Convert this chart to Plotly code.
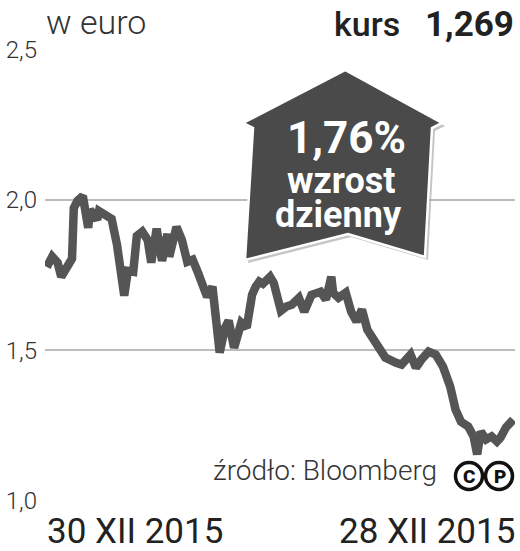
import plotly.graph_objects as go

# ---- data ----
days = [1, 4, 7, 9, 12, 15, 16, 18, 21, 24, 25, 27, 29, 30, 33, 37, 40, 44, 46, 49,
        51, 54, 57, 59, 62, 65, 68, 69, 73, 76, 79, 82, 85, 88, 90, 93, 97, 100, 102, 105,
        109, 112, 115, 117, 119, 121, 125, 127, 131, 134, 137, 141, 144, 148, 150, 153, 156, 159, 160, 163,
        167, 170, 173, 176, 179, 183, 185, 189, 195, 198, 203, 206, 209, 213, 217, 221, 225, 228, 231, 235,
        238, 240, 242, 245, 248, 251, 253, 256, 260]
kurs = [1.777, 1.811, 1.791, 1.744, 1.774, 1.804, 1.973, 1.997, 2.013, 1.907, 1.967, 1.947, 1.934, 1.963, 1.953, 1.937, 1.850, 1.681, 1.764, 1.761,
        1.880, 1.894, 1.867, 1.791, 1.904, 1.797, 1.887, 1.811, 1.910, 1.867, 1.794, 1.801, 1.757, 1.711, 1.678, 1.711, 1.492, 1.575, 1.598, 1.508,
        1.591, 1.575, 1.684, 1.711, 1.728, 1.721, 1.744, 1.724, 1.631, 1.645, 1.651, 1.674, 1.628, 1.684, 1.691, 1.694, 1.668, 1.744, 1.691, 1.674,
        1.691, 1.628, 1.595, 1.635, 1.568, 1.528, 1.502, 1.475, 1.458, 1.452, 1.485, 1.442, 1.468, 1.495, 1.485, 1.445, 1.379, 1.302, 1.262, 1.246,
        1.213, 1.153, 1.229, 1.203, 1.213, 1.196, 1.209, 1.243, 1.269]
y_ticks = [1.0, 1.5, 2.0, 2.5]
date_labels = ["30 XII 2015", "28 XII 2015"]
title_left = "w euro"
kurs_label = "kurs"
kurs_value = "1,269"
badge_lines = ["1,76%", "wzrost", "dzienny"]
source = "źródło: Bloomberg"

W, H = 520, 551
ML, MR, MT, MB = 45, 5, 49, 50
PW, PH = W - ML - MR, H - MT - MB


def px(x):
    return (x - ML) / PW


def py(y):
    return (H - MB - y) / PH


fig = go.Figure()
fig.add_trace(go.Scatter(
    x=days, y=kurs, mode="lines",
    line=dict(color="#555555", width=8.5, shape="linear"),
    hoverinfo="skip", showlegend=False, cliponaxis=False,
))

# badge (house-shaped arrow)
pts = [(345, 70), (442, 123), (432, 128), (425, 257), (348, 234), (245, 260), (253, 128), (243, 123)]


def path(points, dx=0, dy=0):
    return "M " + " L ".join(f"{px(x + dx):.4f},{py(y + dy):.4f}" for x, y in points) + " Z"


shapes = [
    dict(type="path", path=path(pts, 3, 3), xref="paper", yref="paper",
         fillcolor="rgba(150,150,150,0.55)", line=dict(width=0), layer="above"),
    dict(type="path", path=path(pts), xref="paper", yref="paper",
         fillcolor="#4a4a4a", line=dict(color="white", width=2.5), layer="above"),
]
for cx in (469, 499):
    r = 13.5
    shapes.append(dict(type="circle", xref="paper", yref="paper",
                       x0=px(cx - r), x1=px(cx + r), y0=py(476 + r), y1=py(476 - r),
                       fillcolor="white", line=dict(color="#111", width=3.5), layer="above"))

ann = [
    dict(text=title_left, x=px(44), y=py(22), xanchor="left", yanchor="middle",
         font=dict(family="Roboto", size=34, color="#333", weight=300)),
    dict(text=kurs_label, x=px(402), y=py(24), xanchor="right", yanchor="middle",
         font=dict(family="Roboto", size=34, color="#222", weight=500)),
    dict(text=kurs_value, x=px(516), y=py(24), xanchor="right", yanchor="middle",
         font=dict(family="Roboto", size=35, color="#222", weight=700)),
    dict(text=badge_lines[0], x=px(346), y=py(138), xanchor="center", yanchor="middle",
         font=dict(family="Roboto", size=44, color="white", weight=700)),
    dict(text=badge_lines[1], x=px(341), y=py(181), xanchor="center", yanchor="middle",
         font=dict(family="Roboto", size=36, color="white", weight=700)),
    dict(text=badge_lines[2], x=px(338), y=py(215), xanchor="center", yanchor="middle",
         font=dict(family="Roboto", size=36, color="white", weight=700)),
    dict(text=source, x=px(439), y=py(470), xanchor="right", yanchor="middle",
         font=dict(family="Roboto", size=28, color="#333", weight=300)),
    dict(text="C", x=px(469), y=py(476), xanchor="center", yanchor="middle",
         font=dict(family="Roboto", size=19, color="#111", weight=900)),
    dict(text="P", x=px(500), y=py(476), xanchor="center", yanchor="middle",
         font=dict(family="Roboto", size=19, color="#111", weight=900)),
    dict(text=date_labels[0], x=px(45), y=py(531), xanchor="left", yanchor="middle",
         font=dict(family="Roboto", size=35, color="#222", weight=400)),
    dict(text=date_labels[1], x=px(517), y=py(531), xanchor="right", yanchor="middle",
         font=dict(family="Roboto", size=35, color="#222", weight=400)),
]
for a in ann:
    a.update(xref="paper", yref="paper", showarrow=False)

fig.update_layout(
    width=W, height=H,
    margin=dict(l=ML, r=MR, t=MT, b=MB, pad=0),
    paper_bgcolor="white", plot_bgcolor="white",
    separators=", ",
    font=dict(family="Roboto", color="#333"),
    xaxis=dict(range=[0, 261], showgrid=False, zeroline=False, showticklabels=False,
               ticks="", showline=False, fixedrange=True),
    yaxis=dict(range=[0.998, 2.502], tickvals=y_ticks, tickformat=".1f",
               showgrid=True, gridcolor="#bcbcbc", gridwidth=2, zeroline=False,
               showline=False, ticks="", ticklabelstandoff=7,
               tickfont=dict(family="Roboto", size=24, color="#333", weight=300),
               fixedrange=True),
    shapes=shapes, annotations=ann, showlegend=False,
)

fig.write_html("out.html", config={"displayModeBar": False},
               post_script="document.body.style.margin='0';document.body.style.overflow='hidden';")
